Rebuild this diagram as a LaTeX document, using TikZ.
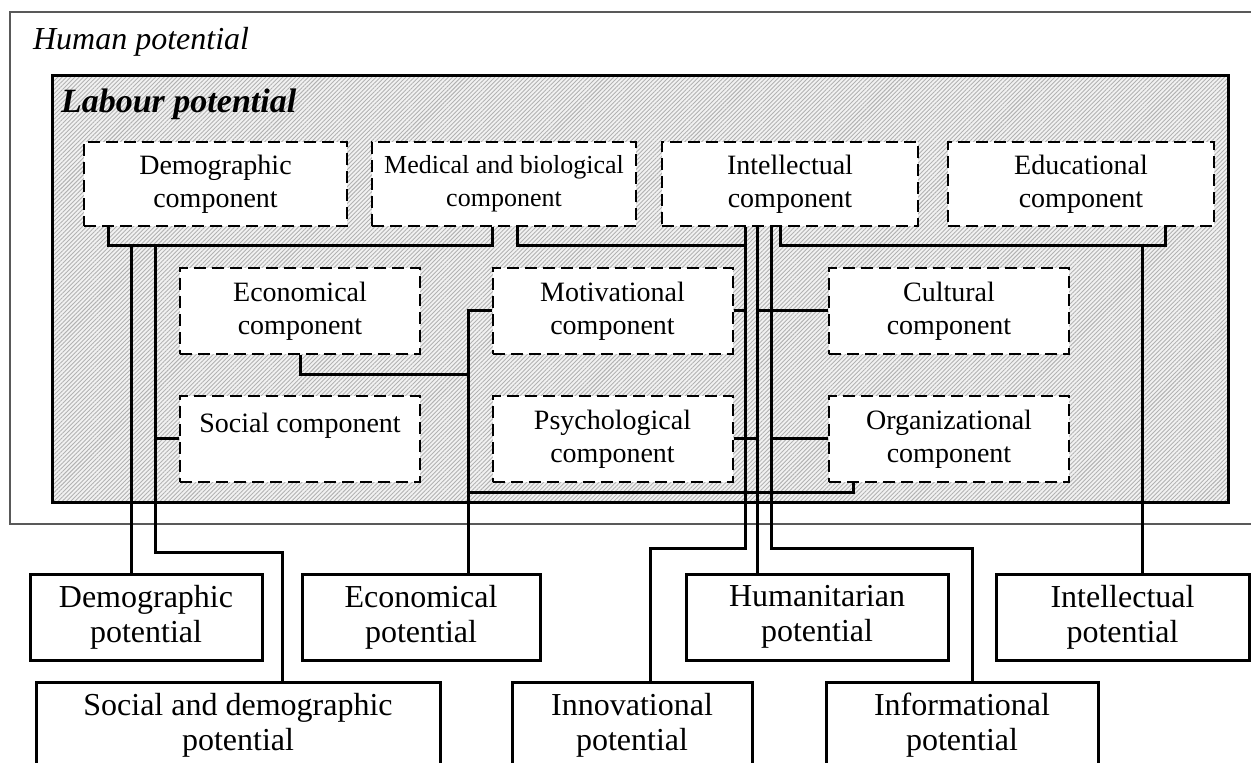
\documentclass[tikz,border=0pt]{standalone}
\usepackage{fontspec}
\setmainfont{Liberation Serif}
\usetikzlibrary{patterns.meta}
\tikzset{
  comp/.style={draw, line width=1pt, dash pattern=on 6pt off 3pt, fill=white,
    align=center, inner sep=0pt, minimum height=42pt, minimum width=120pt,
    font=\fontsize{14}{16.5}\selectfont},
  pot/.style={draw, line width=1.5pt, fill=white, align=center, inner sep=0pt,
    minimum height=43pt, font=\fontsize{16}{17.5}\selectfont},
  link/.style={line width=1.5pt},
}
\begin{document}
\begin{tikzpicture}[x=0.5pt,y=-0.5pt]
	\clip (0,0) rectangle (1251,763);
	% human potential
		\draw[gray!70!black, line width=1pt] (10,12) rectangle (1275,524);
		\node[anchor=west, font=\fontsize{16}{18}\selectfont\itshape] (hp) at (26,42) {Human potential};
	% labour potential
		\fill[gray!10] (52,76) rectangle (1228,503);
		\fill[pattern={Lines[angle=45,distance=1.5pt,line width=.45pt]}, pattern color=gray!60] (52,76) rectangle (1228,503);
		\draw[line width=1.5pt] (52,76) rectangle (1228,503);
		\node[anchor=west, font=\fontsize{17}{19}\selectfont\bfseries\itshape] (lp) at (54,104) {Labour potential};
	% components
		\node[comp, minimum width=131.5pt] (demc) at (215.5,184) {Demographic\\component};
		\node[comp, minimum width=132pt, font=\fontsize{13}{16.5}\selectfont] (medc) at (504,184) {Medical and biological\\component};
		\node[comp, minimum width=128pt] (intc) at (790,184) {Intellectual\\component};
		\node[comp, minimum width=133pt] (educ) at (1081,184) {Educational\\component};
		\node[comp, minimum height=43pt] (ecoc) at (300,311) {Economical\\component};
		\node[comp, minimum height=43pt] (motc) at (612.5,311) {Motivational\\component};
		\node[comp, minimum height=43pt] (cultc) at (949,311) {Cultural\\component};
		\node[comp, minimum height=43pt] (socc) at (300,439) {Social component\\\mbox{}};
		\node[comp, minimum height=43pt] (psyc) at (612.5,439) {Psychological\\component};
		\node[comp, minimum height=43pt] (orgc) at (949,439) {Organizational\\component};
	% potentials
		\node[pot, minimum width=116pt] (dempot) at (146,617) {Demographic\\potential};
		\node[pot, minimum width=119pt] (ecopot) at (421,617) {Economical\\potential};
		\node[pot, minimum width=131pt] (humpot) at (817,617) {Humanitarian\\potential};
		\node[pot, minimum width=126.5pt] (intpot) at (1122.5,617) {Intellectual\\potential};
		\node[pot, minimum width=202pt] (socpot) at (238,725) {Social and demographic\\potential};
		\node[pot, minimum width=120pt] (innpot) at (632,725) {Innovational\\potential};
		\node[pot, minimum width=136pt] (infpot) at (962,725) {Informational\\potential};
	% bus points
		\coordinate (b1) at (108,246);
		\coordinate (b2) at (492,246);
		\coordinate (b3) at (517,246);
		\coordinate (b4) at (780,246);
		\coordinate (b5) at (1165,246);
		\coordinate (vDem) at (131,246);
		\coordinate (vSoc) at (155,246);
		\coordinate (v1) at (745,246);
		\coordinate (v2) at (757,246);
		\coordinate (v3) at (771,246);
		\coordinate (vEdu) at (1142,246);
		\coordinate (tEco) at (468,375);
		\coordinate (tOrg) at (468,493);
		\coordinate (oB) at (853,493);
		\coordinate (tSoc) at (282,553);
		\coordinate (tInn) at (650,549);
		\coordinate (tInf) at (972,549);
	% links
		\draw[link] (demc.south -| b1) |- (b2) -- (b2 |- medc.south);
		\draw[link] (vDem) -- (vDem |- dempot.north);
		\draw[link] (vSoc) |- (tSoc) -- (tSoc |- socpot.north);
		\draw[link] (vSoc |- socc.west) -- (socc.west);
		\draw[link] (medc.south -| b3) |- (v1);
		\draw[link] (intc.south -| v1) |- (tInn) -- (tInn |- innpot.north);
		\draw[link] (intc.south -| v2) -- (v2 |- humpot.north);
		\draw[link] (intc.south -| v3) |- (tInf) -- (tInf |- infpot.north);
		\draw[link] (intc.south -| b4) |- (b5) -- (b5 |- educ.south);
		\draw[link] (vEdu) -- (vEdu |- intpot.north);
		\draw[link] (motc.east) -- (motc.east -| v1);
		\draw[link] (cultc.west -| v2) -- (cultc.west);
		\draw[link] (psyc.east) -- (psyc.east -| v2);
		\draw[link] (orgc.west -| v3) -- (orgc.west);
		\draw[link] (motc.west) -| (tEco |- ecopot.north);
		\draw[link] (ecoc.south) |- (tEco);
		\draw[link] (orgc.south -| oB) -- (oB) -- (tOrg);
\end{tikzpicture}
\end{document}
